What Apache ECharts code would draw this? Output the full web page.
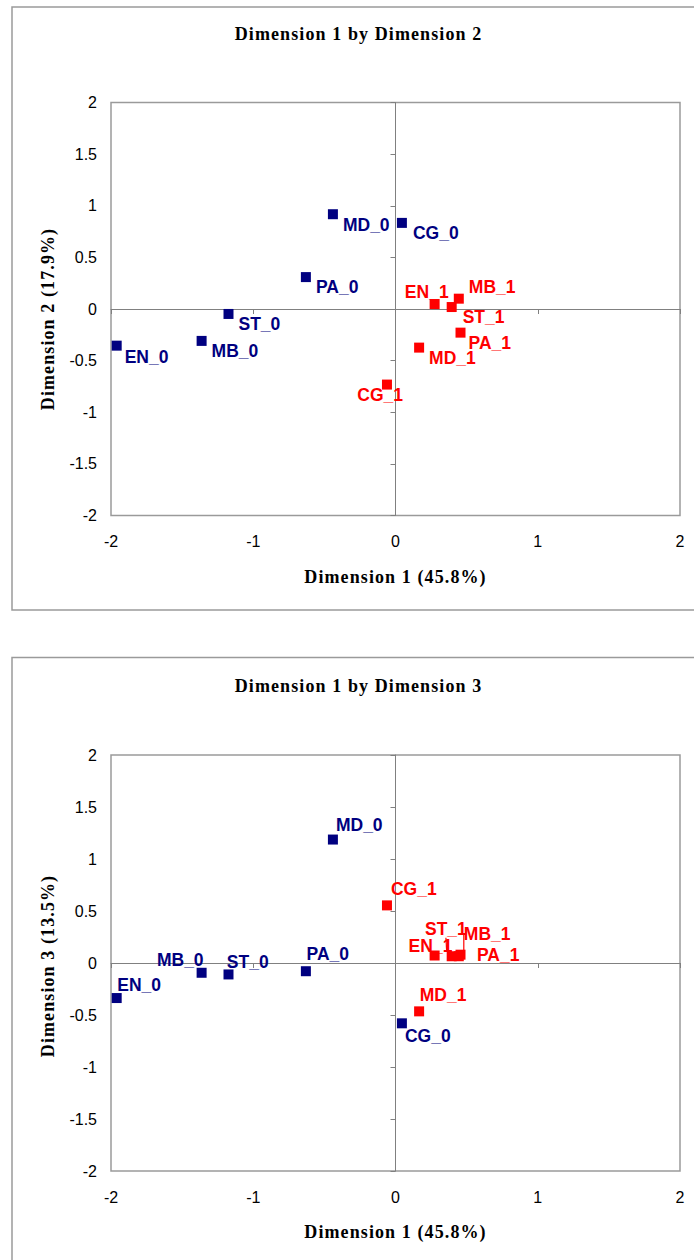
<!DOCTYPE html>
<html>
<head>
<meta charset="utf-8">
<script src="https://cdn.jsdelivr.net/npm/echarts@6/dist/echarts.min.js"></script>
<style>
  html, body { margin: 0; padding: 0; background: #fff; }
  #chart { width: 694px; height: 1260px; }
</style>
</head>
<body>
<div id="chart"></div>
<script>
// ---- Data ----
const labels0 = ['EN_0', 'MB_0', 'ST_0', 'PA_0', 'MD_0', 'CG_0'];
const labels1 = ['EN_1', 'MB_1', 'ST_1', 'PA_1', 'MD_1', 'CG_1'];
const dim1_0 = [-1.96, -1.363, -1.174, -0.63, -0.44, 0.045];
const dim2_0 = [-0.355, -0.309, -0.048, 0.309, 0.918, 0.834];
const dim3_0 = [-0.337, -0.094, -0.110, -0.079, 1.187, -0.58];
const dim1_1 = [0.275, 0.445, 0.395, 0.457, 0.166, -0.06];
const dim2_1 = [0.048, 0.10, 0.019, -0.229, -0.374, -0.732];
const dim3_1 = [0.072, 0.065, 0.065, 0.08, -0.465, 0.554];
const xTicks = ['-2', '-1', '0', '1', '2'];
const titles = ['Dimension 1 by Dimension 2', 'Dimension 1 by Dimension 3'];
const xTitle = 'Dimension 1 (45.8%)';
const yTitles = ['Dimension 2 (17.9%)', 'Dimension 3 (13.5%)'];

// ---- Label placement styles [align, dx, dy, guideLine] ----
const lblTop0 = [['left', 8, 11], ['left', 10, 10.5], ['left', 10, 10], ['left', 10, 10], ['left', 10, 11], ['left', 11, 10]];
const lblTop1 = [['right', 14, -12], ['left', 10, -11.5], ['left', 11, 10], ['left', 8, 10], ['left', 10, 10], ['right', 16, 10]];
const lblBot0 = [['left', 0.6, -13.4], ['right', 2, -13], ['left', -1.7, -12.7], ['left', 0.7, -17.4], ['left', 3, -14.7], ['left', 3, 12.7]];
const lblBot1 = [['left', -26, -9.5], ['left', 5, -22.5, true], ['left', -26.7, -27.5, true], ['left', 16.4, 0], ['left', 0.6, -16.3], ['left', 4, -16.4]];

const NAVY = '#000080', RED = '#ff0000';
const GRIDS = [
  { left: 111, top: 102.5, width: 569, height: 413 },
  { left: 111, top: 755, width: 569, height: 416 }
];

function buildData(names, xs, ys, lbl, color) {
  return names.map((n, i) => {
    const item = {
      name: n,
      value: [xs[i], ys[i]],
      label: { align: lbl[i][0], offset: [lbl[i][1], lbl[i][2]] }
    };
    if (lbl[i][3]) {
      item.labelLine = { show: true, lineStyle: { color: color, width: 1.2 } };
    }
    return item;
  });
}

function seriesFor(gi, names, xs, ys, lbl, color) {
  return {
    type: 'scatter',
    xAxisIndex: gi * 2,
    yAxisIndex: gi * 2,
    symbol: 'rect',
    symbolSize: 10,
    itemStyle: { color: color, opacity: 1 },
    label: {
      show: true,
      position: 'inside',
      verticalAlign: 'middle',
      formatter: '{b}',
      color: color,
      fontSize: 17.5,
      fontWeight: 'bold',
      fontFamily: 'Liberation Sans, Arial, sans-serif',
      textBorderWidth: 0
    },
    labelLine: { show: false },
    emphasis: { disabled: true },
    data: buildData(names, xs, ys, lbl, color)
  };
}

const xAxes = [], yAxes = [];
GRIDS.forEach((g, gi) => {
  xAxes.push({
    gridIndex: gi, type: 'value', min: -2, max: 2, interval: 1, position: 'bottom',
    axisLine: { show: false, onZero: false }, axisTick: { show: false }, splitLine: { show: false },
    axisLabel: { margin: 18, color: '#000', fontSize: 16, fontFamily: 'Liberation Sans, Arial, sans-serif',
      formatter: (v) => xTicks[Math.round(v) + 2] }
  });
  xAxes.push({
    gridIndex: gi, type: 'value', min: -2, max: 2, interval: 1, position: 'bottom',
    axisLine: { show: true, onZero: true, lineStyle: { color: '#808080', width: 1 } },
    axisTick: { show: true, length: 5, lineStyle: { color: '#808080', width: 1 } },
    axisLabel: { show: false }, splitLine: { show: false }
  });
  yAxes.push({
    gridIndex: gi, type: 'value', min: -2, max: 2, interval: 0.5, position: 'left',
    axisLine: { show: false, onZero: false }, axisTick: { show: false }, splitLine: { show: false },
    axisLabel: { margin: 14, color: '#000', fontSize: 16, fontFamily: 'Liberation Sans, Arial, sans-serif' }
  });
  yAxes.push({
    gridIndex: gi, type: 'value', min: -2, max: 2, interval: 0.5, position: 'left',
    axisLine: { show: true, onZero: true, lineStyle: { color: '#808080', width: 1 } },
    axisTick: { show: true, length: 5, lineStyle: { color: '#808080', width: 1 } },
    axisLabel: { show: false }, splitLine: { show: false }
  });
});

const serifFont = 'bold 18px "Liberation Serif", "Times New Roman", serif';
const graphics = [
  { type: 'rect', shape: { x: 12, y: 7, width: 700, height: 603 }, style: { fill: 'none', stroke: '#9a9a9a', lineWidth: 1.5 }, z: -1 },
  { type: 'rect', shape: { x: 12, y: 657.5, width: 700, height: 640 }, style: { fill: 'none', stroke: '#9a9a9a', lineWidth: 1.5 }, z: -1 },
  { type: 'text', x: 358.5, y: 34, style: { text: titles[0], font: serifFont, fill: '#000', textAlign: 'center', textVerticalAlign: 'middle' } },
  { type: 'text', x: 358.5, y: 686, style: { text: titles[1], font: serifFont, fill: '#000', textAlign: 'center', textVerticalAlign: 'middle' } },
  { type: 'text', x: 395.5, y: 577, style: { text: xTitle, font: serifFont, fill: '#000', textAlign: 'center', textVerticalAlign: 'middle' } },
  { type: 'text', x: 395.5, y: 1232, style: { text: xTitle, font: serifFont, fill: '#000', textAlign: 'center', textVerticalAlign: 'middle' } },
  { type: 'text', x: 48, y: 319, rotation: Math.PI / 2, style: { text: yTitles[0], font: serifFont, fill: '#000', textAlign: 'center', textVerticalAlign: 'middle' } },
  { type: 'text', x: 48, y: 966, rotation: Math.PI / 2, style: { text: yTitles[1], font: serifFont, fill: '#000', textAlign: 'center', textVerticalAlign: 'middle' } }
];

const option = {
  animation: false,
  backgroundColor: '#ffffff',
  grid: GRIDS.map(g => Object.assign({ show: true, borderColor: '#9a9a9a', borderWidth: 1.5, backgroundColor: 'transparent' }, g)),
  xAxis: xAxes,
  yAxis: yAxes,
  graphic: graphics,
  series: [
    seriesFor(0, labels0, dim1_0, dim2_0, lblTop0, NAVY),
    seriesFor(0, labels1, dim1_1, dim2_1, lblTop1, RED),
    seriesFor(1, labels0, dim1_0, dim3_0, lblBot0, NAVY),
    seriesFor(1, labels1, dim1_1, dim3_1, lblBot1, RED)
  ]
};

const chart = echarts.init(document.getElementById('chart'), null, { renderer: 'svg', width: 694, height: 1260 });
chart.setOption(option);

// Slight letter spacing for the serif titles, as in the reference
document.querySelectorAll('#chart text').forEach(t => {
  if ((t.textContent || '').indexOf('Dimension') === 0) {
    t.setAttribute('letter-spacing', '1.1');
  }
});
</script>
</body>
</html>
